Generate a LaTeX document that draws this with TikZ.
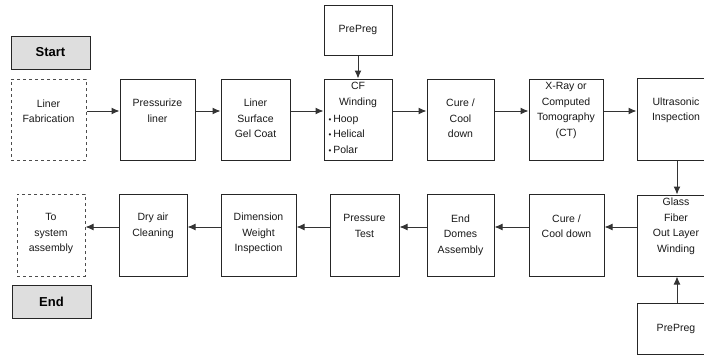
\documentclass[tikz,border=0pt]{standalone}
\usepackage{fontspec}
\setmainfont{Liberation Sans}
\usetikzlibrary{arrows.meta}
\begin{document}
\begin{tikzpicture}[x=1pt,y=-1pt,
  box/.style={draw=black!85,line width=1pt,inner sep=0pt,fill=white},
  dbox/.style={draw=black!70,line width=1pt,dash pattern=on 3pt off 3pt,inner sep=0pt},
  gbox/.style={draw=black!85,line width=1pt,inner sep=0pt,fill=black!13,
    font=\fontsize{13}{15}\selectfont\bfseries},
  txt/.style={align=center,inner sep=0pt,text=black!90,font=\fontsize{10.5}{15.5}\selectfont},
  ltxt/.style={align=left,inner sep=0pt,text=black!90,font=\fontsize{10.5}{15.5}\selectfont},
  arr/.style={draw=black!80,line width=1pt,-{Latex[length=8pt,width=7pt]}}]
\useasboundingbox (0,0) rectangle (704,356);
\clip (0,0) rectangle (704,356);
% top row boxes
\node[gbox,minimum width=79,minimum height=33] (start) at (50.5,52.5) {Start};
\node[dbox,minimum width=75,minimum height=81] (lf) at (48.5,119.5) {};
\node[box,minimum width=75,minimum height=81] (pl) at (157.5,119.5) {};
\node[box,minimum width=69,minimum height=81] (gc) at (255.5,119.5) {};
\node[box,minimum width=68,minimum height=81] (cf) at (358,119.5) {};
\node[box,minimum width=68,minimum height=50] (pp1) at (358,30) {};
\node[box,minimum width=67,minimum height=81] (cc1) at (460.5,119.5) {};
\node[box,minimum width=74,minimum height=81] (xr) at (566,119.5) {};
\node[box,minimum width=80,minimum height=82] (us) at (677,119) {};
% top row texts
\node[txt] (lft) at (48.5,111) {Liner\\Fabrication};
\node[txt] (plt) at (157.5,110.5) {Pressurize\\liner};
\node[txt] (gct) at (255.5,118.5) {Liner\\Surface\\Gel Coat};
\node[txt] (cft) at (358,95) {CF\\Winding};
\node[ltxt,anchor=west] (cfl) at (328.5,134) {{\footnotesize\textbullet}\,Hoop\\{\footnotesize\textbullet}\,Helical\\{\footnotesize\textbullet}\,Polar};
\node[txt] (pp1t) at (358,29.5) {PrePreg};
\node[txt] (cc1t) at (460.5,118.5) {Cure /\\Cool\\down};
\node[txt] (xrt) at (566,110.5) {X-Ray or\\Computed\\Tomography\\(CT)};
\node[txt] (ust) at (676,110.5) {Ultrasonic\\Inspection};
% bottom row boxes
\node[dbox,minimum width=68,minimum height=82] (sa) at (51,235) {};
\node[box,minimum width=68,minimum height=82] (dc) at (153,235) {};
\node[box,minimum width=75,minimum height=82] (dw) at (258.5,235) {};
\node[box,minimum width=69,minimum height=82] (pt) at (364.5,235) {};
\node[box,minimum width=67,minimum height=82] (ed) at (460.5,235) {};
\node[box,minimum width=75,minimum height=82] (cc2) at (566.5,235) {};
\node[box,minimum width=80,minimum height=81] (gf) at (677,235.5) {};
\node[box,minimum width=80,minimum height=51] (pp2) at (677,328.5) {};
\node[gbox,minimum width=79,minimum height=33] (end) at (51.5,301.5) {End};
% bottom row texts
\node[txt] (sat) at (51,233.5) {To\\system\\assembly};
\node[txt] (dct) at (153,226) {Dry air\\Cleaning};
\node[txt] (dwt) at (258.5,233.5) {Dimension\\Weight\\Inspection};
\node[txt] (ptt) at (364.5,226) {Pressure\\Test};
\node[txt] (edt) at (460.5,235) {End\\Domes\\Assembly};
\node[txt] (cc2t) at (566.5,226) {Cure /\\Cool down};
\node[txt] (gft) at (676,226.5) {Glass\\Fiber\\Out Layer\\Winding};
\node[txt] (pp2t) at (676,328.5) {PrePreg};
% connectors top row
\draw[arr] ([yshift=8.5pt]lf.east) -- ([yshift=8.5pt]pl.west);
\draw[arr] ([yshift=8.5pt]pl.east) -- ([yshift=8.5pt]gc.west);
\draw[arr] ([yshift=8.5pt]gc.east) -- ([yshift=8.5pt]cf.west);
\draw[arr] ([yshift=8.5pt]cf.east) -- ([yshift=8.5pt]cc1.west);
\draw[arr] ([yshift=8.5pt]cc1.east) -- ([yshift=8.5pt]xr.west);
\draw[arr] ([yshift=8.5pt]xr.east) -- ([yshift=8pt]us.west);
\draw[arr] (pp1.south) -- (cf.north);
\draw[arr] (us.south) -- (gf.north);
\draw[arr] (pp2.north) -- (gf.south);
% connectors bottom row
\draw[arr] ([yshift=8.5pt]gf.west) -- ([yshift=8pt]cc2.east);
\draw[arr] ([yshift=8pt]cc2.west) -- ([yshift=8pt]ed.east);
\draw[arr] ([yshift=8pt]ed.west) -- ([yshift=8pt]pt.east);
\draw[arr] ([yshift=8pt]pt.west) -- ([yshift=8pt]dw.east);
\draw[arr] ([yshift=8pt]dw.west) -- ([yshift=8pt]dc.east);
\draw[arr] ([yshift=8pt]dc.west) -- ([yshift=8pt]sa.east);
\end{tikzpicture}
\end{document}
